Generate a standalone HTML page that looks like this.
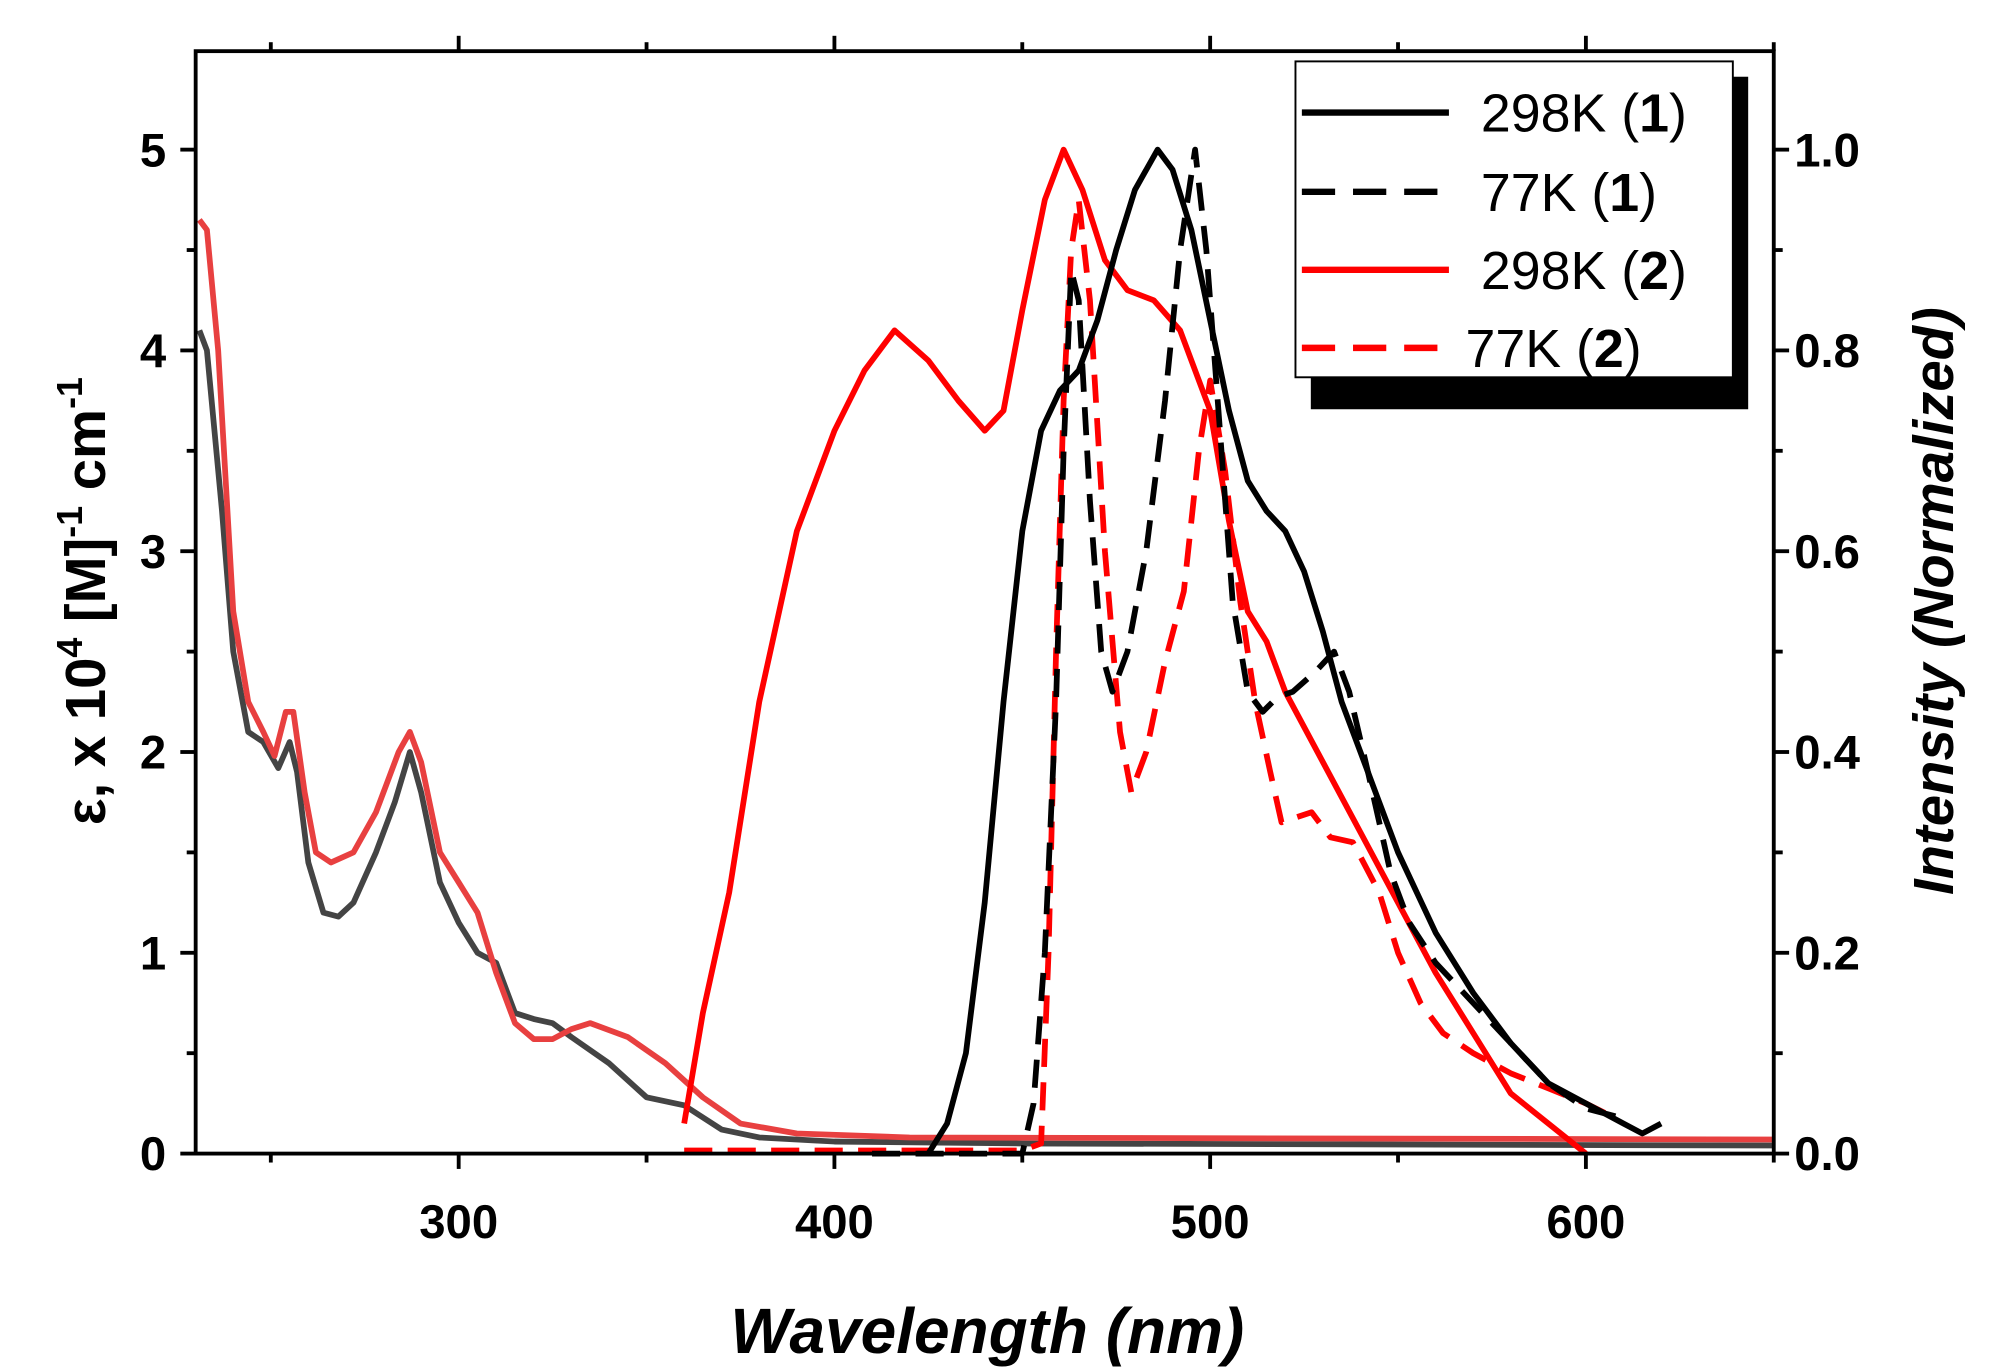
<!DOCTYPE html>
<html><head><meta charset="utf-8"><style>
body{margin:0;background:#fff}
svg{display:block}
text{font-family:"Liberation Sans",sans-serif}
</style></head><body>
<svg id="chart" width="1995" height="1371" viewBox="0 0 1560 1072" preserveAspectRatio="none" xmlns="http://www.w3.org/2000/svg">
</svg>
<script>
const xTicks=[300,400,500,600];
const yLeftTicks=[0,1,2,3,4,5];
const yRightTicks=["0.0","0.2","0.4","0.6","0.8","1.0"];
const abs1X=[231,233,237,240,244,248,252,255,257,260,264,268,272,278,283,287,290,295,300,305,310,315,320,325,330,340,350,360,370,380,400,450,650];
const abs1Y=[4.1,4.0,3.2,2.5,2.1,2.05,1.92,2.05,1.9,1.45,1.2,1.18,1.25,1.5,1.75,2.0,1.8,1.35,1.15,1.0,0.95,0.7,0.67,0.65,0.58,0.45,0.28,0.24,0.12,0.08,0.06,0.05,0.04];
const abs2X=[231,233,236,240,244,248,251,254,256,259,262,266,272,278,284,287,290,295,300,305,310,315,320,325,330,335,345,355,365,375,390,420,650];
const abs2Y=[4.65,4.6,4.0,2.7,2.25,2.1,1.98,2.2,2.2,1.8,1.5,1.45,1.5,1.7,2.0,2.1,1.95,1.5,1.35,1.2,0.9,0.65,0.57,0.57,0.62,0.65,0.58,0.45,0.28,0.15,0.1,0.08,0.07];
const em2rtX=[360,365,372,380,390,400,408,416,425,433,440,445,450,456,461,466,472,478,485,492,500,505,510,515,520,530,540,550,560,570,580,590,600];
const em2rtY=[0.03,0.14,0.26,0.45,0.62,0.72,0.78,0.82,0.79,0.75,0.72,0.74,0.84,0.95,1.0,0.96,0.89,0.86,0.85,0.82,0.74,0.63,0.54,0.51,0.46,0.39,0.32,0.25,0.18,0.12,0.06,0.03,0.0];
const em2ltX=[360,450,455,457,459,461,463,465,468,472,476,479,483,488,493,497,500,504,508,512,516,519,523,527,532,538,545,550,556,562,570,580,590,600,608];
const em2ltY=[0.003,0.003,0.01,0.2,0.5,0.75,0.9,0.95,0.85,0.6,0.42,0.36,0.4,0.49,0.56,0.7,0.77,0.68,0.55,0.45,0.38,0.33,0.335,0.34,0.315,0.31,0.26,0.2,0.15,0.12,0.1,0.08,0.065,0.05,0.035];
const em1rtX=[425,430,435,440,445,450,455,460,465,470,475,480,486,490,495,500,505,510,515,520,525,530,535,540,545,550,555,560,570,580,590,600,610,615,620];
const em1rtY=[0.0,0.03,0.1,0.25,0.45,0.62,0.72,0.76,0.78,0.83,0.9,0.96,1.0,0.98,0.92,0.83,0.74,0.67,0.64,0.62,0.58,0.52,0.45,0.4,0.35,0.3,0.26,0.22,0.16,0.11,0.07,0.05,0.03,0.02,0.03];
const em1ltX=[410,450,453,456,459,461,463,465,468,471,474,478,483,488,492,496,499,502,506,510,514,518,522,528,533,537,542,548,553,560,570,580,590,600,610];
const em1ltY=[0.0,0.0,0.05,0.2,0.45,0.7,0.88,0.85,0.65,0.5,0.46,0.5,0.6,0.75,0.9,1.0,0.9,0.75,0.55,0.46,0.44,0.455,0.46,0.48,0.5,0.46,0.38,0.28,0.23,0.19,0.15,0.11,0.07,0.045,0.035];

const L=153,R=1387,T=40,B=902;
const xS=v=>L+(v-230)*(R-L)/420;
const yL=v=>B-v*(B-117)/5;
const yR=v=>B-v*(B-117);
const NS="http://www.w3.org/2000/svg";
const svg=document.getElementById('chart');
function mk(tag,attrs,parent){const e=document.createElementNS(NS,tag);for(const k in attrs)e.setAttribute(k,attrs[k]);(parent||svg).appendChild(e);return e;}
function path(xs,ys,yf,color,dash,name){
  let d=xs.map((x,i)=>(i?'L':'M')+xS(x).toFixed(1)+','+yf(ys[i]).toFixed(1)).join('');
  const p=mk('path',{d:d,fill:'none',stroke:color,'stroke-width':4.5,'stroke-linejoin':'round'});
  if(dash)p.setAttribute('stroke-dasharray',dash);
  
  
}
path(abs1X,abs1Y,yL,'#444','', 'absorbance-1-line');
path(abs2X,abs2Y,yL,'#e84040','', 'absorbance-2-line');
path(em2ltX,em2ltY,yR,'#f00','22,12','emission-77k-2-line');
path(em2rtX,em2rtY,yR,'#f00','','emission-298k-2-line');
path(em1ltX,em1ltY,yR,'#000','22,12','emission-77k-1-line');
path(em1rtX,em1rtY,yR,'#000','','emission-298k-1-line');
const fr=mk('rect',{x:L,y:T,width:R-L,height:B-T,fill:'none',stroke:'#000','stroke-width':3});


for(let v=250;v<=650;v+=50){const x=xS(v),maj=v%100===0;
  mk('line',{x1:x,y1:B,x2:x,y2:B+(maj?12:7),stroke:'#000','stroke-width':3});
  mk('line',{x1:x,y1:T,x2:x,y2:T-(maj?12:7),stroke:'#000','stroke-width':3});}
xTicks.forEach(v=>{const t=mk('text',{x:xS(v),y:B+66,'text-anchor':'middle','font-size':37,'font-weight':'bold'});t.textContent=v;
  
  });
for(let v=0;v<=5.01;v+=0.5){const y=yL(v),maj=Math.abs(v-Math.round(v))<0.01;
  mk('line',{x1:L,y1:y,x2:L-(maj?12:7),y2:y,stroke:'#000','stroke-width':3});
  mk('line',{x1:R,y1:y,x2:R+(maj?12:7),y2:y,stroke:'#000','stroke-width':3});}
yLeftTicks.forEach(v=>{const t=mk('text',{x:130,y:yL(v)+13,'text-anchor':'end','font-size':37,'font-weight':'bold'});t.textContent=v;
  
  });
yRightTicks.forEach(v=>{const t=mk('text',{x:1403,y:yR(+v)+13,'font-size':37,'font-weight':'bold'});t.textContent=v;
  
  });
</script>
<svg style="position:absolute;left:0;top:0" width="1995" height="1371" viewBox="0 0 1560 1072" preserveAspectRatio="none" xmlns="http://www.w3.org/2000/svg">
<text x="772" y="1058" text-anchor="middle" font-size="50" font-weight="bold" font-style="italic">Wavelength (nm)</text>
<text transform="translate(82,470) rotate(-90)" text-anchor="middle" font-size="44" font-weight="bold">ε, x 10<tspan font-size="28" dy="-18">4</tspan><tspan dy="18"> [M]</tspan><tspan font-size="28" dy="-18">-1</tspan><tspan dy="18"> cm</tspan><tspan font-size="28" dy="-18">-1</tspan></text>
<text transform="translate(1527,470) rotate(-90)" text-anchor="middle" font-size="44" font-weight="bold" font-style="italic">Intensity (Normalized)</text>
<g>
<rect x="1025" y="60" width="342" height="260" fill="#000"/>
<rect x="1013" y="48" width="342" height="247" fill="#fff" stroke="#000" stroke-width="1.5"/>
<line x1="1018" y1="88" x2="1133" y2="88" stroke="#000" stroke-width="5"/>
<line x1="1018" y1="150" x2="1133" y2="150" stroke="#000" stroke-width="5" stroke-dasharray="26,14"/>
<line x1="1018" y1="211" x2="1133" y2="211" stroke="#f00" stroke-width="5"/>
<line x1="1018" y1="272" x2="1133" y2="272" stroke="#f00" stroke-width="5" stroke-dasharray="26,14"/>
<text x="1158" y="103" font-size="42">298K (<tspan font-weight="bold">1</tspan>)</text>
<text x="1158" y="165" font-size="42">77K (<tspan font-weight="bold">1</tspan>)</text>
<text x="1158" y="226" font-size="42">298K (<tspan font-weight="bold">2</tspan>)</text>
<text x="1146" y="287" font-size="42">77K (<tspan font-weight="bold">2</tspan>)</text>
</g>
</svg>
</body></html>
